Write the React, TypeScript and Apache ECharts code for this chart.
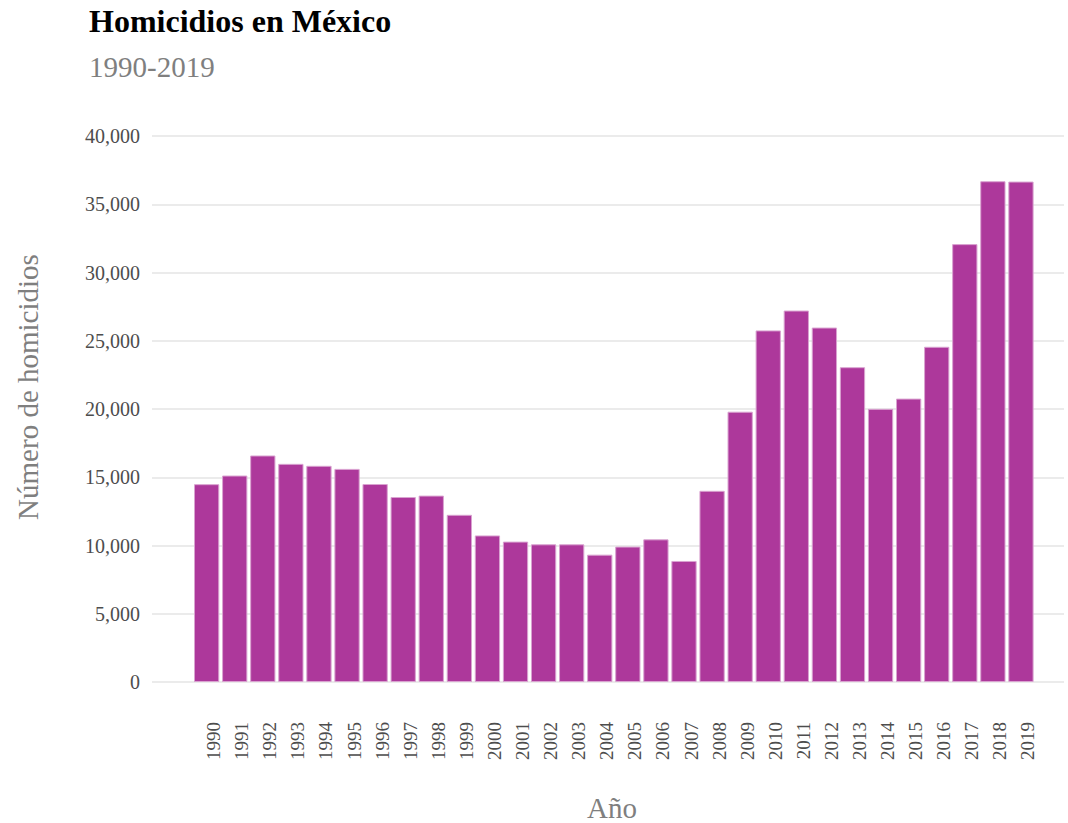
import React, { useEffect, useRef } from "react";
import * as echarts from "echarts";

const years: string[] = [
  "1990", "1991", "1992", "1993", "1994", "1995", "1996", "1997", "1998", "1999",
  "2000", "2001", "2002", "2003", "2004", "2005", "2006", "2007", "2008", "2009",
  "2010", "2011", "2012", "2013", "2014", "2015", "2016", "2017", "2018", "2019",
];

const homicidios: number[] = [
  14493, 15125, 16594, 15982, 15839, 15612, 14505, 13552, 13656, 12249,
  10737, 10285, 10088, 10087, 9329, 9921, 10452, 8867, 14006, 19803,
  25757, 27213, 25967, 23063, 20010, 20762, 24559, 32079, 36685, 36661,
];

const title = "Homicidios en México";
const subtitle = "1990-2019";
const yTitle = "Número de homicidios";
const xTitle = "Año";

const FONT = "'Liberation Serif', 'Times New Roman', serif";

export default function App() {
  const ref = useRef<HTMLDivElement>(null);

  useEffect(() => {
    if (!ref.current) return;
    const chart = echarts.init(ref.current, null, { renderer: "svg" });
    const gridTop = 136;
    const gridBottom = 823 - 682;
    chart.setOption({
      animation: false,
      backgroundColor: "#ffffff",
      textStyle: { fontFamily: FONT },
      grid: [
        { left: 152, right: 4, top: gridTop, bottom: gridBottom, containLabel: false },
        { left: 192.6, width: 842.4, top: gridTop, bottom: gridBottom, containLabel: false },
      ],
      xAxis: [
        { type: "value", gridIndex: 0, min: 0, max: 1, show: false },
        {
          type: "category",
          gridIndex: 1,
          data: years,
          axisLine: { show: false },
          axisTick: { show: false },
          axisLabel: {
            rotate: 90,
            margin: 40,
            color: "#4d4d4d",
            fontSize: 19,
            fontFamily: FONT,
            interval: 0,
            verticalAlign: "top",
            lineHeight: 14,
          },
        },
      ],
      yAxis: [
        {
          type: "value",
          gridIndex: 0,
          min: 0,
          max: 40000,
          interval: 5000,
          axisLine: { show: false },
          axisTick: { show: false },
          axisLabel: {
            margin: 12,
            color: "#4d4d4d",
            fontSize: 20,
            fontFamily: FONT,
            formatter: (v: number) => v.toLocaleString("en-US"),
          },
          splitLine: { lineStyle: { color: "#ebebeb", width: 2 } },
        },
        {
          type: "value",
          gridIndex: 1,
          min: 0,
          max: 40000,
          show: false,
          splitLine: { show: false },
        },
      ],
      series: [
        {
          type: "bar",
          xAxisIndex: 1,
          yAxisIndex: 1,
          data: homicidios,
          barCategoryGap: "10%",
          itemStyle: { color: "#ad389b", borderColor: "#d9a3d0", borderWidth: 1 },
        },
      ],
      graphic: [
        {
          type: "text",
          x: 89,
          y: 21,
          style: {
            text: title,
            fill: "#000000",
            font: `bold 32px ${FONT}`,
            verticalAlign: "middle",
            align: "left",
          },
        },
        {
          type: "text",
          x: 89,
          y: 67,
          style: {
            text: subtitle,
            fill: "#7f7f7f",
            font: `29px ${FONT}`,
            verticalAlign: "middle",
            align: "left",
          },
        },
        {
          type: "text",
          x: 28,
          y: 387,
          rotation: Math.PI / 2,
          style: {
            text: yTitle,
            fill: "#7f7f7f",
            font: `29px ${FONT}`,
            verticalAlign: "middle",
            align: "center",
          },
        },
        {
          type: "text",
          x: 612,
          y: 808,
          style: {
            text: xTitle,
            fill: "#7f7f7f",
            font: `29px ${FONT}`,
            verticalAlign: "middle",
            align: "center",
          },
        },
      ],
    });
    return () => chart.dispose();
  }, []);

  return (
    <div
      ref={ref}
      style={{ position: "absolute", left: 0, top: 0, width: 1068, height: 823 }}
    />
  );
}
